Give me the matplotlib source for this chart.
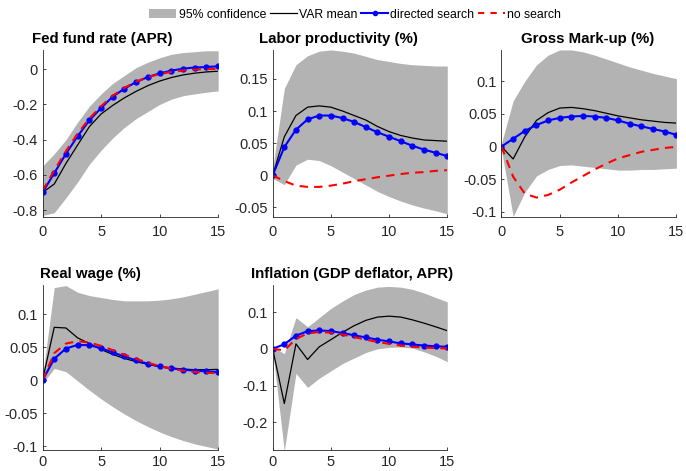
import matplotlib.pyplot as plt
import numpy as np
from matplotlib.ticker import FuncFormatter
from matplotlib.patches import Patch
from matplotlib.lines import Line2D

plt.rcParams['font.family'] = ['Liberation Sans', 'DejaVu Sans']

# Data
horizon = np.arange(16)

titles = ['Fed fund rate (APR)', 'Labor productivity (%)', 'Gross Mark-up (%)',
          'Real wage (%)', 'Inflation (GDP deflator, APR)']

var_mean = [
    [-0.70, -0.652, -0.535, -0.43, -0.326, -0.254, -0.205, -0.162, -0.125, -0.093,
     -0.067, -0.047, -0.032, -0.022, -0.015, -0.011],
    [0, 0.06, 0.093, 0.106, 0.108, 0.106, 0.100, 0.093, 0.086, 0.076,
     0.068, 0.062, 0.058, 0.055, 0.054, 0.053],
    [0, -0.019, 0.015, 0.040, 0.052, 0.059, 0.060, 0.058, 0.055, 0.051,
     0.047, 0.044, 0.041, 0.039, 0.037, 0.036],
    [0, 0.080, 0.079, 0.064, 0.0555, 0.0465, 0.039, 0.033, 0.028, 0.024,
     0.0205, 0.0185, 0.017, 0.016, 0.016, 0.0165],
    [0, -0.149, 0.0135, -0.029, 0.0055, 0.025, 0.045, 0.063, 0.0775, 0.0865,
     0.089, 0.0865, 0.079, 0.070, 0.060, 0.0495],
]

directed = [
    [-0.70, -0.59, -0.48, -0.38, -0.29, -0.22, -0.155, -0.11, -0.072, -0.044,
     -0.023, -0.008, 0.004, 0.010, 0.013, 0.017],
    [0, 0.044, 0.071, 0.087, 0.093, 0.093, 0.089, 0.083, 0.075, 0.067,
     0.060, 0.053, 0.046, 0.040, 0.035, 0.030],
    [0, 0.012, 0.024, 0.033, 0.040, 0.044, 0.046, 0.047, 0.046, 0.044,
     0.040, 0.035, 0.031, 0.027, 0.023, 0.018],
    [0, 0.0325, 0.048, 0.0535, 0.053, 0.0485, 0.042, 0.036, 0.030, 0.025,
     0.021, 0.018, 0.016, 0.0145, 0.0135, 0.0125],
    [0, 0.0126, 0.036, 0.048, 0.050, 0.0485, 0.043, 0.037, 0.031, 0.025,
     0.020, 0.015, 0.012, 0.009, 0.007, 0.0055],
]

no_search = [
    [-0.69, -0.575, -0.465, -0.365, -0.28, -0.21, -0.15, -0.105, -0.07, -0.045,
     -0.027, -0.015, -0.007, -0.002, 0.001, 0.003],
    [0, -0.009, -0.016, -0.018, -0.018, -0.016, -0.013, -0.009, -0.006, -0.003,
     -0.0005, 0.002, 0.004, 0.005, 0.007, 0.008],
    [0, -0.046, -0.072, -0.078, -0.074, -0.066, -0.055, -0.045, -0.035, -0.026,
     -0.018, -0.013, -0.008, -0.005, -0.002, -0.0005],
    [0, 0.041, 0.0555, 0.059, 0.057, 0.052, 0.0455, 0.0385, 0.0325, 0.0265,
     0.0215, 0.0175, 0.0145, 0.0125, 0.0115, 0.0105],
    [0, -0.004, 0.027, 0.042, 0.046, 0.044, 0.039, 0.032, 0.025, 0.019,
     0.0135, 0.009, 0.006, 0.0035, 0.002, 0.001],
]

band_upper = [
    [-0.55, -0.48, -0.40, -0.30, -0.21, -0.14, -0.08, -0.035, 0.01, 0.04,
     0.065, 0.085, 0.095, 0.10, 0.105, 0.105],
    [0.01, 0.135, 0.172, 0.186, 0.193, 0.195, 0.193, 0.19, 0.185, 0.18,
     0.177, 0.174, 0.172, 0.171, 0.17, 0.17],
    [0.005, 0.07, 0.10, 0.125, 0.14, 0.148, 0.148, 0.145, 0.14, 0.134,
     0.128, 0.122, 0.117, 0.112, 0.108, 0.104],
    [0.005, 0.14, 0.143, 0.133, 0.128, 0.125, 0.122, 0.12, 0.12, 0.12,
     0.121, 0.123, 0.126, 0.13, 0.134, 0.138],
    [0.005, -0.013, 0.085, 0.06, 0.085, 0.11, 0.13, 0.148, 0.16, 0.168,
     0.17, 0.168, 0.162, 0.152, 0.14, 0.128],
]

band_lower = [
    [-0.83, -0.815, -0.73, -0.64, -0.54, -0.46, -0.39, -0.33, -0.28, -0.24,
     -0.20, -0.17, -0.15, -0.14, -0.13, -0.123],
    [-0.005, -0.0145, 0.016, 0.025, 0.023, 0.015, 0.005, -0.005, -0.015, -0.025,
     -0.033, -0.04, -0.046, -0.051, -0.055, -0.06],
    [-0.005, -0.107, -0.07, -0.045, -0.035, -0.029, -0.028, -0.03, -0.032, -0.034,
     -0.036, -0.036, -0.035, -0.035, -0.034, -0.033],
    [-0.005, 0.018, 0.013, -0.001, -0.015, -0.028, -0.04, -0.051, -0.061, -0.07,
     -0.078, -0.085, -0.091, -0.096, -0.10, -0.104],
    [-0.005, -0.278, -0.067, -0.105, -0.08, -0.06, -0.04, -0.025, -0.01, 0.0,
     0.004, 0.005, 0.002, -0.008, -0.02, -0.035],
]

ylims = [(-0.84, 0.11), (-0.065, 0.195), (-0.108, 0.148), (-0.105, 0.144), (-0.275, 0.174)]
yticks = [[-0.8, -0.6, -0.4, -0.2, 0], [-0.05, 0, 0.05, 0.1, 0.15], [-0.1, -0.05, 0, 0.05, 0.1],
          [-0.1, -0.05, 0, 0.05, 0.1], [-0.2, -0.1, 0, 0.1]]

# axes rectangles (left, bottom, width, height) in figure fractions
positions = [(0.062, 0.539, 0.256, 0.355), (0.3975, 0.539, 0.2545, 0.355),
             (0.731, 0.539, 0.255, 0.355), (0.062, 0.045, 0.256, 0.35),
             (0.3975, 0.045, 0.2545, 0.35)]
title_x = [0.338, 0.374, 0.493, 0.27, 0.454]

band_color = '#b3b3b3'
fmt = FuncFormatter(lambda v, p: ('%g' % round(v, 4)))

fig = plt.figure(figsize=(6.86, 4.71), dpi=100)

for i in range(5):
    ax = fig.add_axes(positions[i])
    ax.fill_between(horizon, band_lower[i], band_upper[i], color=band_color, linewidth=0)
    ax.plot(horizon, var_mean[i], color='black', linewidth=0.9)
    ax.plot(horizon, directed[i], color='blue', linewidth=1.5, marker='o', markersize=3.5)
    ax.plot(horizon, no_search[i], color='red', linestyle='--', linewidth=1.5, dashes=(4, 3))
    ax.set_xlim(0, 15)
    ax.set_ylim(*ylims[i])
    ax.set_xticks([0, 5, 10, 15])
    ax.set_yticks(yticks[i])
    ax.yaxis.set_major_formatter(fmt)
    ax.set_title(titles[i], fontsize=10.8, fontweight='bold', x=title_x[i], pad=5)
    for s in ['top', 'right']:
        ax.spines[s].set_visible(False)
    for s in ['left', 'bottom']:
        ax.spines[s].set_color('#262626')
        ax.spines[s].set_linewidth(0.6)
    ax.tick_params(direction='in', length=2.5, width=0.6, labelsize=10.5, colors='#262626')
    ax.tick_params(axis='x', pad=4 if i >= 3 else 6)

handles = [Patch(facecolor=band_color, edgecolor='none'),
           Line2D([], [], color='black', linewidth=0.9),
           Line2D([], [], color='blue', linewidth=1.5, marker='o', markersize=3),
           Line2D([], [], color='red', linestyle='--', linewidth=1.5, dashes=(3, 3))]
labels = ['95% confidence', 'VAR mean', 'directed search', 'no search']
fig.legend(handles, labels, loc='upper center', bbox_to_anchor=(0.518, 1.005), ncol=4,
           frameon=False, fontsize=8.8, handlelength=2.2, handletextpad=0.2, columnspacing=0.3)

fig.savefig('out.png', dpi=100)
